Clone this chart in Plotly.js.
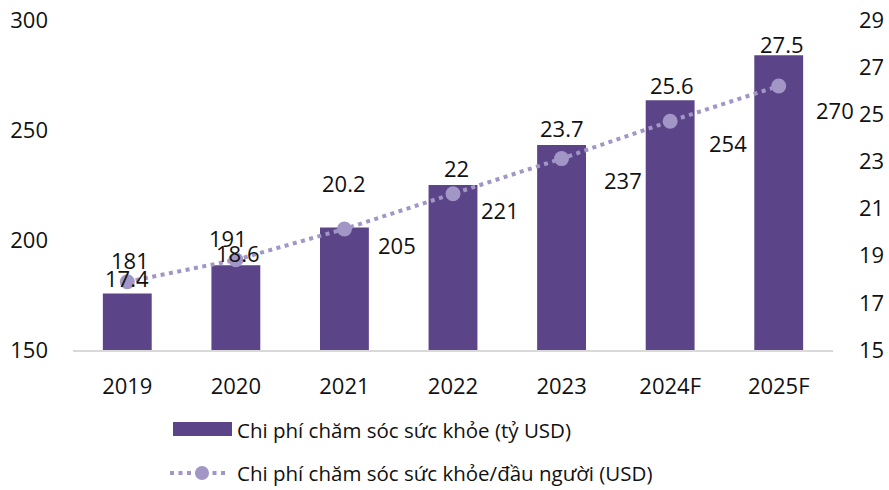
<!DOCTYPE html>
<html>
<head>
<meta charset="utf-8">
<script src="https://cdn.plot.ly/plotly-3.0.1.min.js"></script>
<style>html,body{margin:0;padding:0;background:#fff;}#chart{width:889px;height:490px;}</style>
</head>
<body>
<div id="chart"></div>
<script>
// Data
const years = ["2019", "2020", "2021", "2022", "2023", "2024F", "2025F"];
const totalSpend = [17.4, 18.6, 20.2, 22, 23.7, 25.6, 27.5];          // tỷ USD (bars, right axis)
const perCapita = [181, 191, 205, 221, 237, 254, 270];                 // USD (line, left axis)
const barName = "Chi phí chăm sóc sức khỏe (tỷ USD)";
const lineName = "Chi phí chăm sóc sức khỏe/đầu người (USD)";

// Label offsets in pixels (style only)
const barLabelDx = [0, 2, 0, 3, 0, 2, 3];
const barLabelDy = [15, 12, 44, 17, 17, 15, 11];
const lineLabelDx = [3, -8, 53, 47, 61, 58, 56];
const lineLabelDy = [-22, -22, 16, 16, 21, 22, 24];

const FONT = "'Open Sans', 'Noto Sans', sans-serif";
const barColor = "#5b4487";
const lineColor = "#a196c6";
const idx = years.map((_, i) => i);

const traces = [
  {
    type: "bar", x: idx, y: totalSpend, name: barName,
    marker: {color: barColor}, width: 0.45, yaxis: "y", xaxis: "x",
    hoverinfo: "skip", showlegend: false
  },
  {
    type: "scatter", mode: "lines+markers", x: idx, y: perCapita, name: lineName,
    yaxis: "y2", xaxis: "x",
    line: {color: lineColor, width: 4, dash: "4px,4.5px"},
    marker: {color: lineColor, size: 15, symbol: "circle"},
    hoverinfo: "skip", showlegend: false
  }
];

const annotations = [];
idx.forEach(i => {
  annotations.push({
    x: i, y: totalSpend[i], xref: "x", yref: "y", text: String(totalSpend[i]),
    showarrow: false, xanchor: "center", yanchor: "middle",
    xshift: barLabelDx[i], yshift: barLabelDy[i],
    font: {family: FONT, size: 22, color: "#111"}
  });
  annotations.push({
    x: i, y: perCapita[i], xref: "x", yref: "y2", text: String(perCapita[i]),
    showarrow: false, xanchor: "center", yanchor: "middle",
    xshift: lineLabelDx[i], yshift: -lineLabelDy[i],
    font: {family: FONT, size: 22, color: "#111"}
  });
});

// custom legend (paper coords: x=(px-73)/760, y=(350-py)/330)
const toPX = v => (v - 73) / 760;
const toPY = v => (350 - v) / 330;
annotations.push({
  x: toPX(235), y: toPY(430), xref: "paper", yref: "paper", text: barName,
  showarrow: false, xanchor: "left", yanchor: "middle",
  font: {family: FONT, size: 20.5, color: "#111"}
});
annotations.push({
  x: toPX(235), y: toPY(473), xref: "paper", yref: "paper", text: lineName,
  showarrow: false, xanchor: "left", yanchor: "middle",
  font: {family: FONT, size: 20.5, color: "#111"}
});

const shapes = [
  {type: "rect", xref: "paper", yref: "paper", x0: toPX(173), x1: toPX(232), y0: toPY(436), y1: toPY(422),
   fillcolor: barColor, line: {width: 0}},
  {type: "line", xref: "paper", yref: "paper", x0: toPX(170), x1: toPX(228), y0: toPY(473), y1: toPY(473),
   line: {color: lineColor, width: 4, dash: "4px,4.5px"}},
  {type: "circle", xref: "paper", yref: "paper", x0: toPX(195), x1: toPX(209), y0: toPY(480), y1: toPY(466),
   fillcolor: lineColor, line: {width: 0}}
];

const layout = {
  width: 889, height: 490,
  margin: {l: 73, r: 56, t: 20, b: 140},
  paper_bgcolor: "#fff", plot_bgcolor: "#fff",
  font: {family: FONT, size: 20, color: "#111"},
  showlegend: false,
  xaxis: {
    range: [-0.5, 6.5], tickmode: "array", tickvals: idx, ticktext: years,
    showline: true, linecolor: "#d9d9d9", linewidth: 1.5,
    ticks: "", showgrid: false, zeroline: false, ticklabelstandoff: 16,
    tickfont: {family: FONT, size: 22, color: "#111"}
  },
  yaxis: {
    side: "right", range: [15, 29], dtick: 2, tick0: 15, showgrid: false, zeroline: false,
    showline: false, ticks: "", ticklabelstandoff: 25,
    tickfont: {family: FONT, size: 22, color: "#111"}
  },
  yaxis2: {
    overlaying: "y", side: "left", range: [150, 300], dtick: 50, tick0: 150,
    showgrid: false, zeroline: false, showline: false, ticks: "", ticklabelstandoff: 24,
    tickfont: {family: FONT, size: 22, color: "#111"}
  },
  annotations: annotations,
  shapes: shapes
};

Plotly.newPlot("chart", traces, layout, {displayModeBar: false, staticPlot: true});
</script>
</body>
</html>
